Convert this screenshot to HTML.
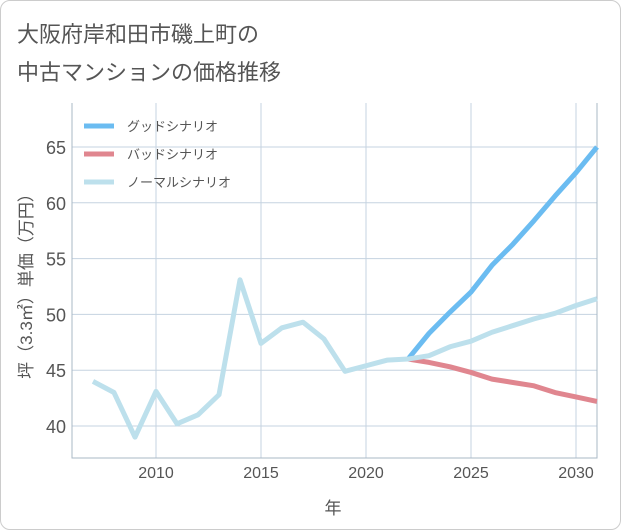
<!DOCTYPE html>
<html><head><meta charset="utf-8"><style>
body{margin:0;background:#fff;font-family:"Liberation Sans","Noto Sans CJK JP",sans-serif;}
#card{position:absolute;left:0;top:0;width:619px;height:528px;border:1px solid #ccc;border-radius:10px;}
.title{position:absolute;left:16px;font-size:22px;color:#555;}
</style></head><body>
<div id="card">
<div class="title" style="top:16px">大阪府岸和田市磯上町の</div>
<div class="title" style="top:54px">中古マンションの価格推移</div>
<svg id="svg" width="621" height="530" style="position:absolute;left:-1px;top:-1px"></svg>
</div>
<script>
const years=[2007,2008,2009,2010,2011,2012,2013,2014,2015,2016,2017,2018,2019,2020,2021,2022,2023,2024,2025,2026,2027,2028,2029,2030,2031];
const normal=[44.0,43.0,39.0,43.1,40.2,41.0,42.8,53.1,47.4,48.8,49.3,47.8,44.9,45.4,45.9,46.0,46.3,47.1,47.6,48.4,49.0,49.6,50.1,50.8,51.4];
const goodYears=[2022,2023,2024,2025,2026,2027,2028,2029,2030,2031];
const good=[46.0,48.3,50.2,52.0,54.4,56.3,58.4,60.6,62.7,65.0];
const bad=[46.0,45.7,45.3,44.8,44.2,43.9,43.6,43.0,42.6,42.2];
const xTicks=[2010,2015,2020,2025,2030];
const yTicks=[40,45,50,55,60,65];
const L=72,R=597,T=103,B=458;
const X=y=>156+(y-2010)*21;
const Y=v=>147+(65-v)*11.16;
const svg=document.getElementById('svg');
const NS='http://www.w3.org/2000/svg';
function mk(t,a,txt){const e=document.createElementNS(NS,t);for(const k in a)e.setAttribute(k,a[k]);if(txt!==undefined)e.textContent=txt;svg.appendChild(e);return e;}
yTicks.forEach(v=>{
 const g=mk('line',{x1:L,x2:R,y1:Y(v),y2:Y(v),stroke:'#c5d3e0','stroke-width':1});
 
 const t=mk('text',{x:66,y:Y(v)+7,'text-anchor':'end','font-size':18,fill:'#555'},v);
 
});
xTicks.forEach(v=>{
 const g=mk('line',{x1:X(v),x2:X(v),y1:T,y2:B,stroke:'#c5d3e0','stroke-width':1});
 
 const t=mk('text',{x:X(v),y:478,'text-anchor':'middle','font-size':16,fill:'#555'},v);
 
});
const ax=mk('path',{d:`M${L} ${T}V${B}H${R}V${T}`,fill:'none',stroke:'#aab8c6','stroke-width':1});

function line(xs,vs,c,n){const p=mk('polyline',{points:xs.map((y,i)=>X(y)+','+Y(vs[i])).join(' '),fill:'none',stroke:c,'stroke-width':5,'stroke-linejoin':'round'});
 }
line(goodYears,bad,'#e0868f','bad-scenario-line');
line(goodYears,good,'#6bbcf1','good-scenario-line');
line(years,normal,'#bde0ec','normal-scenario-line');
[['グッドシナリオ','#6bbcf1',126],['バッドシナリオ','#e0868f',154],['ノーマルシナリオ','#bde0ec',182]].forEach(([s,c,y])=>{
 const l=mk('line',{x1:84,x2:114,y1:y,y2:y,stroke:c,'stroke-width':5});
 
 const t=mk('text',{x:127,y:y+5,'font-size':13,fill:'#555'},s);
 
});
const yt=mk('text',{x:0,y:0,transform:'translate(32,282) rotate(-90)','text-anchor':'middle','font-size':17,fill:'#555'},'坪（3.3㎡）単価（万円）');

const xt=mk('text',{x:333,y:514,'text-anchor':'middle','font-size':17,fill:'#555'},'年');

</script>
</body></html>
